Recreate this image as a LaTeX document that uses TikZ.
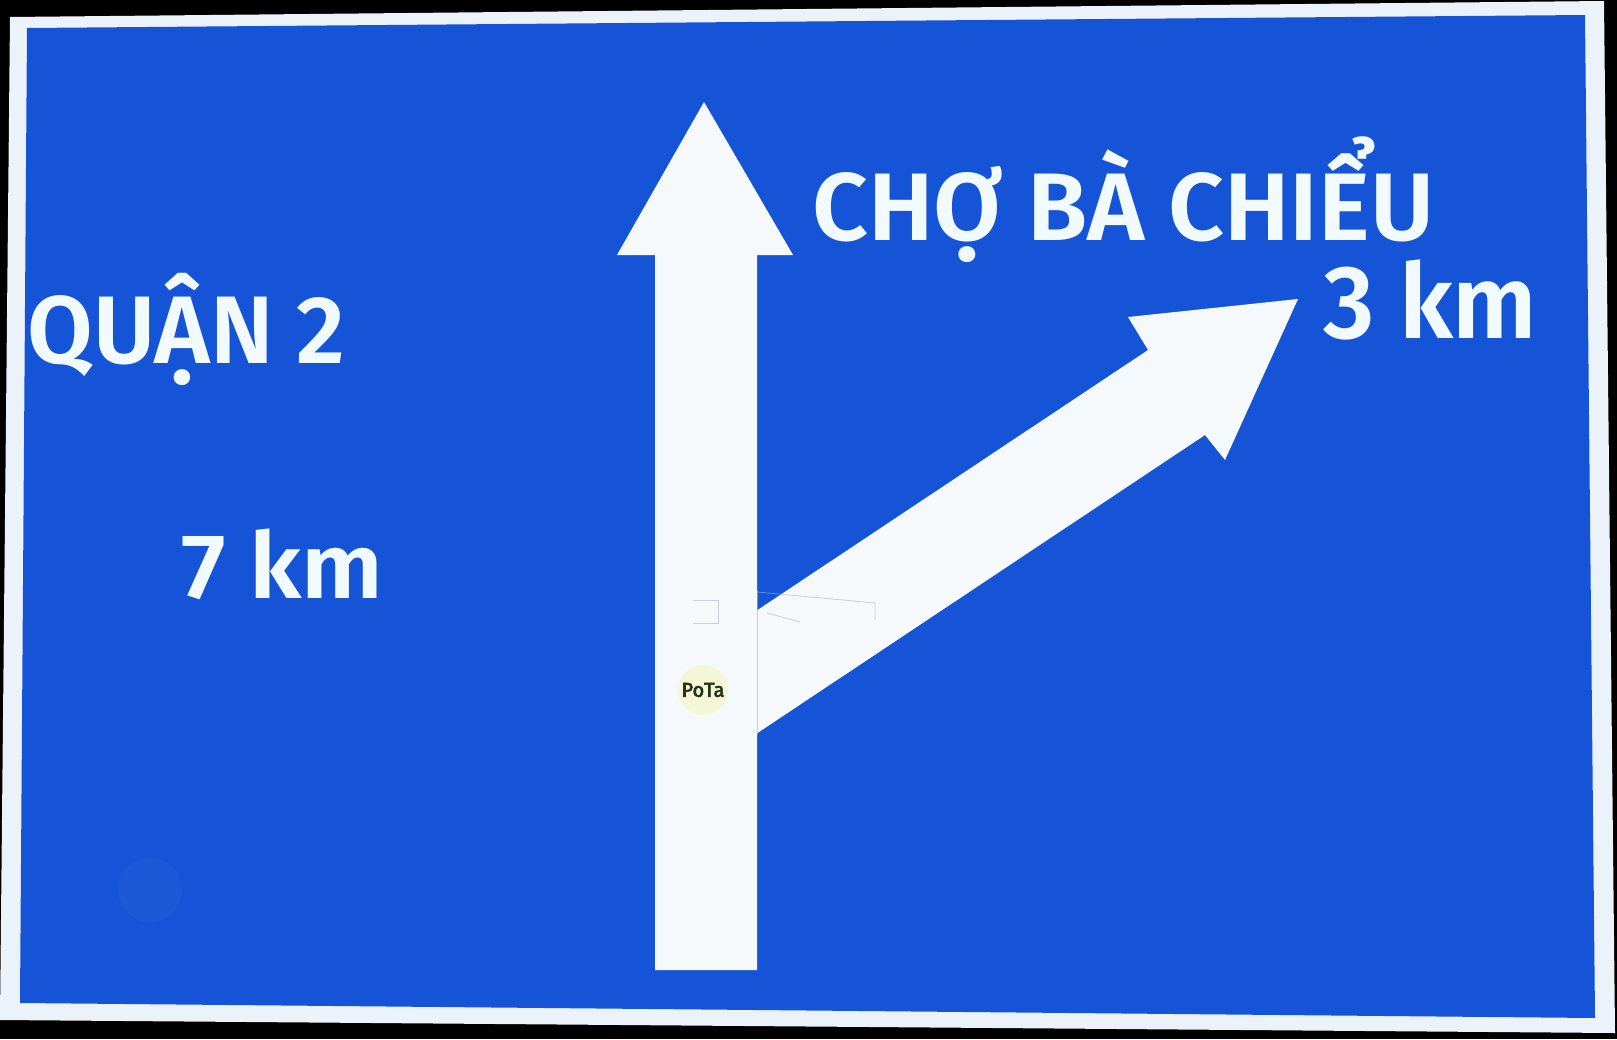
\documentclass[tikz,border=0pt]{standalone}
\usepackage{fontspec}
\setmainfont{Fira Sans}
\IfFontExistsTF{Fira Sans SemiBold}
  {\newfontfamily\signfont{Fira Sans SemiBold}}
  {\IfFontExistsTF{Fira Sans Medium}
     {\newfontfamily\signfont{Fira Sans Medium}}
     {\newfontfamily\signfont{Fira Sans}[FakeBold=3.5]}}
\newfontfamily\stickerfont{Fira Sans}[FakeBold=3]
\usepackage{graphicx}
\definecolor{signblue}{RGB}{21,84,214}
\definecolor{blotch}{RGB}{27,89,216}
\definecolor{signwhite}{RGB}{236,242,250}
\definecolor{arrowwhite}{RGB}{246,249,252}
\definecolor{textwhite}{RGB}{240,250,255}
\definecolor{stickerfill}{RGB}{244,247,214}
\definecolor{stickerink}{RGB}{38,50,26}
\definecolor{seam}{RGB}{170,178,195}
\newcommand{\fitw}[2]{\resizebox{#1}{\height}{#2}}
\begin{document}
\begin{tikzpicture}[x=0.5pt,y=-0.5pt,
  signtext/.style={text=textwhite, inner sep=0pt, anchor=base west},
  arrowshape/.style={fill=arrowwhite},
  seamline/.style={draw=seam, line width=0.4pt, opacity=0.6}]
\fill[black] (0,0) rectangle (1617,1039);
\useasboundingbox (0,0) rectangle (1617,1039);
% sign panel
\fill[signwhite] (10,17) -- (1604,1) -- (1615,1033) -- (0,1020) -- cycle;
\fill[signblue] (27,28) -- (1585,15) -- (1595,1018) -- (20,1003) -- cycle;
\fill[blotch] (150,890) circle (32);
% straight arrow
\fill[arrowshape] (704,102) -- (793,255) -- (757,255) -- (757,970) -- (655,970) -- (655,255) -- (617,255) -- cycle;
% diagonal arrow
\fill[arrowshape] (750,615) -- (1148,350) -- (1128,317) -- (1298,299) -- (1225,460) -- (1205,435) -- (750,738) -- cycle;
% seams
\draw[seamline] (757,590) -- (757,735);
\draw[seamline] (693,600) -- (718,600) -- (718,623) -- (693,623);
\draw[seamline] (757,592) -- (875,603) -- (875,620);
\draw[seamline] (767,613) -- (800,622);
% sticker
\node[circle, fill=stickerfill, minimum size=25pt, inner sep=0pt, text=stickerink,
      font=\stickerfont\fontsize{10pt}{11pt}\selectfont] (sticker) at (703,690) {PoTa};
% texts
\node[signtext, font=\signfont\fontsize{48pt}{58pt}\selectfont] (cho) at (812,240) {\fitw{311pt}{CHỢ BÀ CHIỂU}};
\node[signtext, font=\signfont\fontsize{52pt}{60pt}\selectfont] (km3) at (1323,338) {\fitw{107pt}{3 km}};
\node[signtext, font=\signfont\fontsize{48pt}{58pt}\selectfont] (quan) at (27,363) {\fitw{159pt}{QUẬN 2}};
\node[signtext, font=\signfont\fontsize{46pt}{56pt}\selectfont] (km7) at (181,598) {\fitw{101pt}{7 km}};
\end{tikzpicture}
\end{document}
